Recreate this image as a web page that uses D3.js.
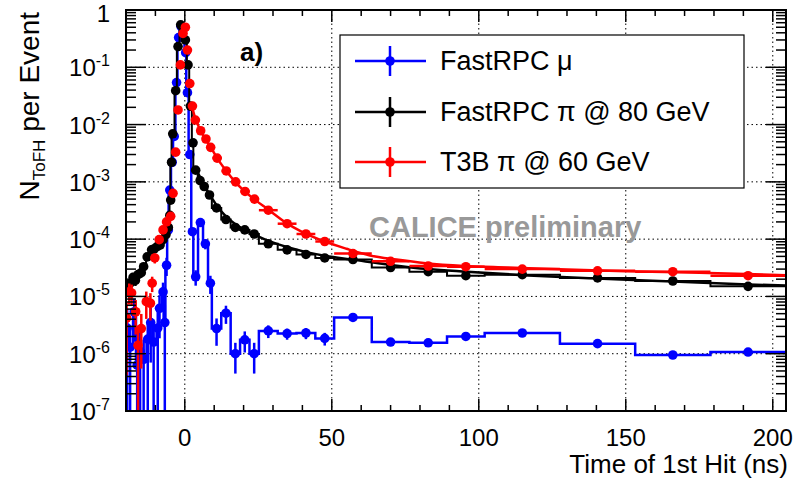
<!DOCTYPE html>
<html>
<head>
<meta charset="utf-8">
<script src="https://cdn.jsdelivr.net/npm/d3@7"></script>
<style>
  body { margin: 0; background: #fff; }
  svg { display: block; font-family: "Liberation Sans", Arial, Helvetica, sans-serif; }
</style>
</head>
<body>
<div id="chart"></div>
<script>
// FastRPC muons: bin centre (ns), N per event, bin width, relative error
const muT = [-19.6,-18.6,-17.2,-16.2,-15.2,-14.0,-12.6,-11.6,-10.6,-9.2,-8.6,-7.4,-6.8,-6.2,-5.6,-5.1,-4.3,-3.6,-2.8,-2.1,-1.3,-0.5,0.3,0.9,1.7,2.6,3.7,5.3,7.0,8.7,10.8,14.0,17.2,20.4,23.6,28.4,34.8,41.2,47.6,57.2,70.0,82.8,95.6,114.8,140.4,166.0,191.6];
const muV = [2.8e-6,1.3e-6,5.4e-6,6.3e-7,1.1e-6,8e-7,1.8e-6,3.5e-6,1.6e-6,2.8e-6,6.2e-6,1.2e-5,3.5e-6,3.5e-5,1.45e-4,7.2e-4,2.2e-3,6.2e-3,5.4e-2,0.33,0.52,0.48,0.18,3.6e-2,3.0e-3,1.35e-4,2.2e-5,1.95e-4,8.3e-5,1.7e-5,2.75e-6,5.1e-6,1.0e-6,1.75e-6,1.0e-6,2.5e-6,2.25e-6,2.3e-6,1.85e-6,4.3e-6,1.6e-6,1.55e-6,2.0e-6,2.3e-6,1.5e-6,9.5e-7,1.07e-6];
const muW = [0.8,0.8,0.8,0.8,0.8,0.8,0.8,0.8,0.8,0.8,0.8,0.8,0.8,0.8,0.8,0.8,0.8,0.8,0.8,0.8,0.8,0.8,0.8,0.8,0.8,0.8,1.6,1.6,1.6,1.6,3.2,3.2,3.2,3.2,3.2,6.4,6.4,6.4,6.4,12.8,12.8,12.8,12.8,25.6,25.6,25.6,25.6];
const muE = [1.2,1.2,0.7,1.5,1.2,1.2,1,0.8,1.2,1,0.7,0.45,1,0.35,0.15,0.08,0.05,0.04,0.02,0.02,0.02,0.02,0.02,0.02,0.05,0.15,0.3,0.12,0.2,0.35,0.5,0.35,0.55,0.4,0.55,0.25,0.22,0.22,0.25,0.12,0.15,0.15,0.12,0.1,0.1,0.12,0.1];

// FastRPC pions 80 GeV
const piT = [-19.6,-18.8,-17.6,-16.8,-15.9,-14.8,-14.0,-12.8,-11.3,-10.4,-9.4,-8.4,-7.4,-6.4,-5.6,-5.1,-4.8,-4.5,-4.1,-3.1,-2.3,-1.4,0.2,1.1,1.9,2.8,3.7,5.2,6.6,8.4,10.8,14.0,17.2,20.4,23.6,28.4,34.8,41.2,47.6,57.2,70.0,82.8,95.6,114.8,140.4,166.0,191.6];
const piV = [1.4e-5,1.65e-5,2.15e-5,1.9e-5,2.4e-5,2.6e-5,3.3e-5,4.9e-5,6.5e-5,6.8e-5,7.4e-5,7.9e-5,9.8e-5,1.2e-4,1.6e-4,2.6e-4,4.8e-4,2.2e-3,6.9e-3,3.9e-2,0.23,0.55,0.30,0.11,2.1e-2,4.8e-3,1.6e-3,1.05e-3,8.3e-4,5.9e-4,3.5e-4,2.2e-4,1.6e-4,1.45e-4,1.23e-4,8.3e-5,6.5e-5,5.4e-5,4.7e-5,4.4e-5,3.2e-5,2.7e-5,2.3e-5,2.4e-5,2.1e-5,1.86e-5,1.5e-5];
const piW = [0.8,0.8,0.8,0.8,0.8,0.8,0.8,0.8,0.8,0.8,0.8,0.8,0.8,0.8,0.8,0.8,0.8,0.8,0.8,0.8,0.8,0.8,0.8,0.8,0.8,0.8,1.6,1.6,1.6,1.6,3.2,3.2,3.2,3.2,3.2,6.4,6.4,6.4,6.4,12.8,12.8,12.8,12.8,25.6,25.6,25.6,25.6];
const piE = [0.25,0.22,0.2,0.2,0.18,0.18,0.15,0.12,0.1,0.1,0.1,0.1,0.08,0.08,0.06,0.05,0.04,0.02,0.02,0.02,0.02,0.02,0.02,0.02,0.02,0.02,0.03,0.03,0.03,0.04,0.04,0.05,0.05,0.05,0.05,0.05,0.05,0.05,0.05,0.05,0.05,0.05,0.05,0.05,0.05,0.05,0.06];
const piFitT = [3.7,5,6.5,8.5,11,14,17,20,24,28,35,41,48,57,70,83,96,115,140,166,191.6,204.4];
const piFitV = [1.78e-3,1.26e-3,8.9e-4,6.0e-4,3.8e-4,2.5e-4,1.86e-4,1.48e-4,1.17e-4,9.5e-5,7.2e-5,6.0e-5,5.1e-5,4.4e-5,3.55e-5,3.0e-5,2.7e-5,2.35e-5,2.05e-5,1.82e-5,1.62e-5,1.55e-5];

// T3B pions 60 GeV
const tbT = [-19.8,-18.9,-18.1,-16.7,-15.9,-14.8,-13.1,-11.7,-11.1,-10.2,-8.7,-7.4,-6.2,-4.8,-4.0,-3.1,-2.3,-1.5,-0.6,0.2,0.9,1.7,2.6,3.6,5.4,7.2,8.8,11.0,14.1,17.3,20.5,23.7,28.4,34.8,41.2,47.6,57.2,70.0,82.8,95.6,114.8,140.4,166.0,191.6];
const tbV = [4.2e-6,1.2e-5,1.15e-5,5.4e-6,1.4e-6,2.75e-6,8.1e-6,7.6e-6,1.7e-5,4.7e-5,9.8e-5,1.45e-4,2.0e-4,2.5e-4,6.3e-4,3.3e-3,1.8e-2,0.11,0.39,0.50,0.20,5.2e-2,2.1e-2,1.2e-2,7.8e-3,5.6e-3,4.0e-3,2.6e-3,1.55e-3,1.0e-3,6.8e-4,5.0e-4,3.2e-4,1.86e-4,1.23e-4,9.1e-5,5.6e-5,4.1e-5,3.4e-5,3.3e-5,3.0e-5,2.8e-5,2.7e-5,2.3e-5];
const tbW = [0.8,0.8,0.8,0.8,0.8,0.8,0.8,0.8,0.8,0.8,0.8,0.8,0.8,0.8,0.8,0.8,0.8,0.8,0.8,0.8,0.8,0.8,0.8,1.6,1.6,1.6,1.6,3.2,3.2,3.2,3.2,3.2,6.4,6.4,6.4,6.4,12.8,12.8,12.8,12.8,25.6,25.6,25.6,25.6];
const tbE = [0.9,0.4,0.4,0.6,1.2,0.8,0.5,0.5,0.3,0.2,0.15,0.12,0.1,0.08,0.05,0.02,0.02,0.02,0.02,0.02,0.02,0.02,0.02,0.02,0.02,0.02,0.02,0.03,0.03,0.03,0.03,0.03,0.04,0.04,0.04,0.04,0.05,0.05,0.05,0.05,0.06,0.06,0.06,0.06];
const tbFitT = [2.5,3.5,5,7,9,11,14,17,20,24,28,34,40,47,55,63,72,82,95,110,130,150,175,204.4];
const tbFitV = [2.0e-2,1.32e-2,8.5e-3,5.6e-3,3.9e-3,2.6e-3,1.58e-3,1.02e-3,7.1e-4,4.8e-4,3.4e-4,2.0e-4,1.32e-4,9.3e-5,6.8e-5,5.2e-5,4.4e-5,3.8e-5,3.4e-5,3.2e-5,2.95e-5,2.75e-5,2.6e-5,2.35e-5];

const legendLabels = ['FastRPC \u03bc', 'FastRPC \u03c0 @ 80 GeV', 'T3B \u03c0 @ 60 GeV'];
const xMajor = [0, 50, 100, 150, 200];
const yDecades = [-7, -6, -5, -4, -3, -2, -1, 0];

const W = 795, H = 479;
const L = 126, R = 786, T = 10, B = 411;

const x = d3.scaleLinear().domain([-20, 204.5]).range([L, R]);
const y = d3.scaleLog().domain([1e-7, 1]).range([B, T]);

const svg = d3.select('#chart').append('svg')
    .attr('width', W)
    .attr('height', H);

svg.append('defs').append('clipPath').attr('id', 'clip')
  .append('rect').attr('x', L).attr('y', T).attr('width', R - L).attr('height', B - T);

// grid
const grid = svg.append('g').attr('stroke', '#000').attr('stroke-width', 1).attr('stroke-dasharray', '1.5,3');
xMajor.forEach(v => {
    grid.append('line').attr('x1', x(v)).attr('x2', x(v)).attr('y1', T).attr('y2', B);
});
yDecades.slice(1, -1).forEach(d => {
    grid.append('line').attr('x1', L).attr('x2', R).attr('y1', y(Math.pow(10, d))).attr('y2', y(Math.pow(10, d)));
});

const plot = svg.append('g').attr('clip-path', 'url(#clip)');

function drawSeries(T_, V_, W_, E_, col, opt) {
    const g = plot.append('g');
    const bins = T_.map((t, i) => ({ t: t, v: V_[i], w: W_[i], e: E_[i] }));
    if (opt.hist) {
        const pts = bins.map(b => [x(b.t - b.w / 2), y(b.v)]);
        const last = bins[bins.length - 1];
        pts.push([x(last.t + last.w / 2), y(last.v)]);
        g.append('path')
            .attr('d', d3.line().curve(d3.curveStepAfter)(pts))
            .attr('fill', 'none')
            .attr('stroke', col)
            .attr('stroke-width', opt.histWidth);
    }
    if (opt.fitT) {
        g.append('path')
            .attr('d', d3.line().curve(d3.curveMonotoneX)(opt.fitT.map((t, i) => [x(t), y(opt.fitV[i])])))
            .attr('fill', 'none')
            .attr('stroke', col)
            .attr('stroke-width', 2.5);
    }
    bins.forEach(b => {
        const lo = Math.max(b.v * (1 - b.e), 1e-9);
        g.append('line')
            .attr('x1', x(b.t)).attr('x2', x(b.t))
            .attr('y1', y(lo)).attr('y2', y(b.v * (1 + b.e)))
            .attr('stroke', col).attr('stroke-width', 2.5);
        if (opt.xerr) {
            g.append('line')
                .attr('x1', x(b.t - b.w / 2)).attr('x2', x(b.t + b.w / 2))
                .attr('y1', y(b.v)).attr('y2', y(b.v))
                .attr('stroke', col).attr('stroke-width', 2.5);
        }
    });
    g.selectAll('circle')
        .data(bins)
        .enter().append('circle')
        .attr('cx', d => x(d.t))
        .attr('cy', d => y(d.v))
        .attr('r', 4.8)
        .attr('fill', col);
}

drawSeries(muT, muV, muW, muE, '#0000ff', { hist: true, histWidth: 2.5 });
drawSeries(piT, piV, piW, piE, '#000000', { hist: true, histWidth: 2, fitT: piFitT, fitV: piFitV });
drawSeries(tbT, tbV, tbW, tbE, '#ff0000', { xerr: true, fitT: tbFitT, fitV: tbFitV });

// frame and ticks
const ax = svg.append('g').attr('stroke', '#000');
ax.append('rect').attr('x', L).attr('y', T).attr('width', R - L).attr('height', B - T)
    .attr('fill', 'none').attr('stroke-width', 2);

for (let v = -20; v <= 200; v += 10) {
    const len = xMajor.includes(v) ? 12 : 6;
    ax.append('line').attr('x1', x(v)).attr('x2', x(v)).attr('y1', B).attr('y2', B - len).attr('stroke-width', 1.5);
    ax.append('line').attr('x1', x(v)).attr('x2', x(v)).attr('y1', T).attr('y2', T + len).attr('stroke-width', 1.5);
}
yDecades.forEach(d => {
    const base = Math.pow(10, d);
    ax.append('line').attr('x1', L).attr('x2', L + 20).attr('y1', y(base)).attr('y2', y(base)).attr('stroke-width', 1.5);
    ax.append('line').attr('x1', R).attr('x2', R - 20).attr('y1', y(base)).attr('y2', y(base)).attr('stroke-width', 1.5);
    if (d < 0) {
        for (let k = 2; k <= 9; k++) {
            ax.append('line').attr('x1', L).attr('x2', L + 10).attr('y1', y(k * base)).attr('y2', y(k * base)).attr('stroke-width', 1.5);
            ax.append('line').attr('x1', R).attr('x2', R - 10).attr('y1', y(k * base)).attr('y2', y(k * base)).attr('stroke-width', 1.5);
        }
    }
});

// tick labels
const lab = svg.append('g').attr('fill', '#000');
xMajor.forEach(v => {
    lab.append('text').attr('x', x(v)).attr('y', 446).attr('text-anchor', 'middle')
        .attr('font-size', 24).text(v);
});
yDecades.forEach(d => {
    const t = lab.append('text').attr('x', 110).attr('y', y(Math.pow(10, d)) + 9)
        .attr('text-anchor', 'end').attr('font-size', 24);
    if (d === 0) {
        t.attr('y', y(1) + 12).text('1');
    } else {
        t.append('tspan').text('10');
        t.append('tspan').attr('dy', -10).attr('font-size', 16).text(d);
    }
});

// axis titles
lab.append('text').attr('x', 788).attr('y', 473).attr('text-anchor', 'end')
    .attr('font-size', 26).text('Time of 1st Hit (ns)');
const yt = lab.append('text').attr('transform', 'translate(39,12) rotate(-90)')
    .attr('text-anchor', 'end').attr('font-size', 28);
yt.append('tspan').text('N');
yt.append('tspan').attr('dy', 6).attr('font-size', 17).text('ToFH');
yt.append('tspan').attr('dy', -6).text(' per Event');

// labels in the pad
lab.append('text').attr('x', 240).attr('y', 61).attr('font-size', 26).attr('font-weight', 'bold').text('a)');
lab.append('text').attr('x', 369).attr('y', 237).attr('font-size', 29).attr('font-weight', 'bold')
    .attr('fill', '#999999').text('CALICE preliminary');

// legend
const leg = svg.append('g');
leg.append('rect').attr('x', 340).attr('y', 35).attr('width', 404).attr('height', 153)
    .attr('fill', '#fff').attr('stroke', '#000').attr('stroke-width', 1.2);
const legCols = ['#0000ff', '#000000', '#ff0000'];
const legY = [61, 112, 162];
legendLabels.forEach((txt, i) => {
    const g = leg.append('g').attr('stroke', legCols[i]).attr('stroke-width', 2.5);
    g.append('line').attr('x1', 355).attr('x2', 426).attr('y1', legY[i]).attr('y2', legY[i]);
    g.append('line').attr('x1', 390).attr('x2', 390).attr('y1', legY[i] - 15).attr('y2', legY[i] + 15);
    leg.append('circle').attr('cx', 390).attr('cy', legY[i]).attr('r', 4.8).attr('fill', legCols[i]);
    leg.append('text').attr('x', 440).attr('y', legY[i] + 9).attr('font-size', 27).text(txt);
});
</script>
</body>
</html>
